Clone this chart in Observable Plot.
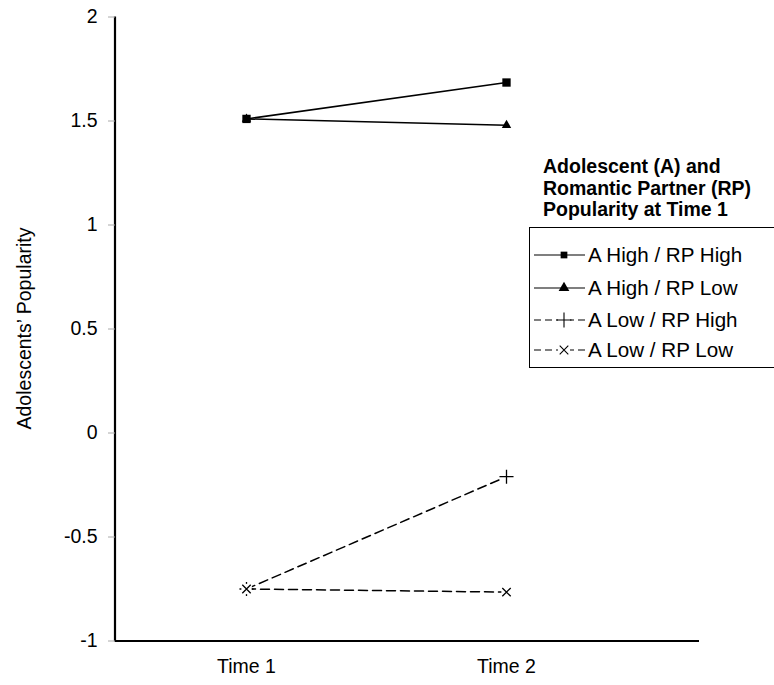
<!DOCTYPE html>
<html>
<head>
<meta charset="utf-8">
<script src="https://cdn.jsdelivr.net/npm/d3@7"></script>
<script src="https://cdn.jsdelivr.net/npm/@observablehq/plot@0.6"></script>
<style>
  html, body { margin: 0; padding: 0; background: #fff; }
  #wrap { position: relative; width: 774px; height: 685px; font-family: Arial, "Liberation Sans", sans-serif; }
  #legend-title { position: absolute; left: 543px; top: 156px; font-weight: bold; font-size: 19.5px; line-height: 21.5px; color: #000; white-space: nowrap; }
  #legend-box { position: absolute; left: 529px; top: 227px; width: 250px; height: 141px; border: 1.5px solid #000; box-sizing: border-box; background: #fff; }
  .entry { position: absolute; left: 0; height: 24px; display: flex; align-items: center; font-size: 20.6px; white-space: nowrap; }
  .entry svg { display: block; margin-right: 2px; }
</style>
</head>
<body>
<div id="wrap">
  <div id="chart"></div>
  <div id="legend-title"></div>
  <div id="legend-box"></div>
</div>
<script>
// ---- data ----
const series = ["A High / RP High", "A High / RP Low", "A Low / RP High", "A Low / RP Low"];
const times = ["Time 1", "Time 2"];
const highHigh = [1.51, 1.685];
const highLow = [1.51, 1.48];
const lowHigh = [-0.75, -0.21];
const lowLow = [-0.75, -0.765];
const yTicks = [-1, -0.5, 0, 0.5, 1, 1.5, 2];
const yLabel = "Adolescents\u2019 Popularity";
const legendTitle = ["Adolescent (A) and", "Romantic Partner (RP)", "Popularity at Time 1"];

const seriesValues = [highHigh, highLow, lowHigh, lowLow];
const styles = [
  {symbol: "square", r: 4.7, filled: true, dash: null},
  {symbol: "triangle", r: 3.5, filled: true, dash: null},
  {symbol: "plus", r: 4.6, filled: false, dash: "9,5"},
  {symbol: "times", r: 3.9, filled: false, dash: "9,5"}
];
// order in which the markers are stacked (later = on top)
const markerOrder = [1, 0, 2, 3];

const data = series.flatMap((s, i) => times.map((t, j) => ({series: s, time: t, value: seriesValues[i][j]})));

const marks = [];
// axis lines
marks.push(Plot.ruleY([-1], {stroke: "#000", strokeWidth: 2.2}));
marks.push((index, scales, values, dims) => {
  const g = d3.create("svg:g");
  g.append("line")
    .attr("x1", dims.marginLeft).attr("x2", dims.marginLeft)
    .attr("y1", dims.marginTop).attr("y2", dims.height - dims.marginBottom + 1)
    .attr("stroke", "#000").attr("stroke-width", 2.2);
  // y-axis title, rotated, centred on the frame
  const cy = (dims.marginTop + dims.height - dims.marginBottom) / 2;
  g.append("text")
    .attr("transform", `translate(${dims.marginLeft - 91},${cy}) rotate(-90)`)
    .attr("text-anchor", "middle").attr("dominant-baseline", "central")
    .attr("font-size", "19.5px").attr("fill", "#000")
    .text(yLabel);
  return g.node();
});
series.forEach((s, i) => {
  const st = styles[i];
  marks.push(Plot.line(data.filter(d => d.series === s), {
    x: "time", y: "value", stroke: "#000", strokeWidth: 1.5,
    strokeDasharray: st.dash
  }));
});
markerOrder.forEach(i => {
  const s = series[i];
  const st = styles[i];
  const rows = data.filter(d => d.series === s);
  if (!st.filled) {
    // white marker background (as in the original's markers)
    marks.push(Plot.dot(rows, {x: "time", y: "value", symbol: "square", r: 5.8, fill: "#fff", stroke: "none"}));
  }
  marks.push(Plot.dot(rows, {
    x: "time", y: "value", symbol: () => st.symbol, r: st.r,
    fill: st.filled ? "#000" : "none",
    stroke: st.filled ? "none" : "#000",
    strokeWidth: 1.3
  }));
});
marks.push(Plot.axisY(yTicks, {tickSize: 7, tickPadding: 11, stroke: "#aaa", fill: "#000", tickFormat: d => String(d), label: null}));
marks.push(Plot.axisX({tickSize: 0, tickPadding: 18, fill: "#000", label: null}));

const chart = Plot.plot({
  width: 774,
  height: 685,
  marginLeft: 115,
  marginRight: 75,
  marginTop: 16.5,
  marginBottom: 44.5,
  style: {fontFamily: "Arial, 'Liberation Sans', sans-serif", fontSize: "19.5px", background: "#fff", color: "#000"},
  x: {type: "point", domain: times, padding: 0.619, align: 0.4056},
  y: {domain: [-1, 2]},
  symbol: {type: "identity"},
  marks
});
document.getElementById("chart").appendChild(chart);

// ---- legend ----
document.getElementById("legend-title").innerHTML = legendTitle.join("<br>");
const box = document.getElementById("legend-box");
const entryCenters = [27, 59.5, 91.5, 122];
series.forEach((s, i) => {
  const st = styles[i];
  const e = document.createElement("div");
  e.className = "entry";
  e.style.top = (entryCenters[i] - 12) + "px";
  const svg = d3.create("svg").attr("width", 56).attr("height", 24);
  svg.append("line").attr("x1", 4).attr("x2", 55).attr("y1", 12).attr("y2", 12)
    .attr("stroke", "#000").attr("stroke-width", 1.2)
    .attr("stroke-dasharray", st.dash ? "7,4" : null);
  const sym = {square: d3.symbolSquare, triangle: d3.symbolTriangle, plus: d3.symbolPlus, times: d3.symbolTimes}[st.symbol];
  const size = st.filled ? (st.symbol === "square" ? 45 : 50) : (st.symbol === "plus" ? 75 : 50);
  svg.append("rect").attr("x", 28).attr("y", 6).attr("width", 12).attr("height", 12).attr("fill", st.filled ? "none" : "#fff");
  svg.append("path").attr("transform", "translate(34,12)")
    .attr("d", d3.symbol(sym, size)())
    .attr("fill", st.filled ? "#000" : "none").attr("stroke", st.filled ? "none" : "#000").attr("stroke-width", 1.1);
  e.appendChild(svg.node());
  const t = document.createElement("span");
  t.textContent = s;
  e.appendChild(t);
  box.appendChild(e);
});
</script>
</body>
</html>
